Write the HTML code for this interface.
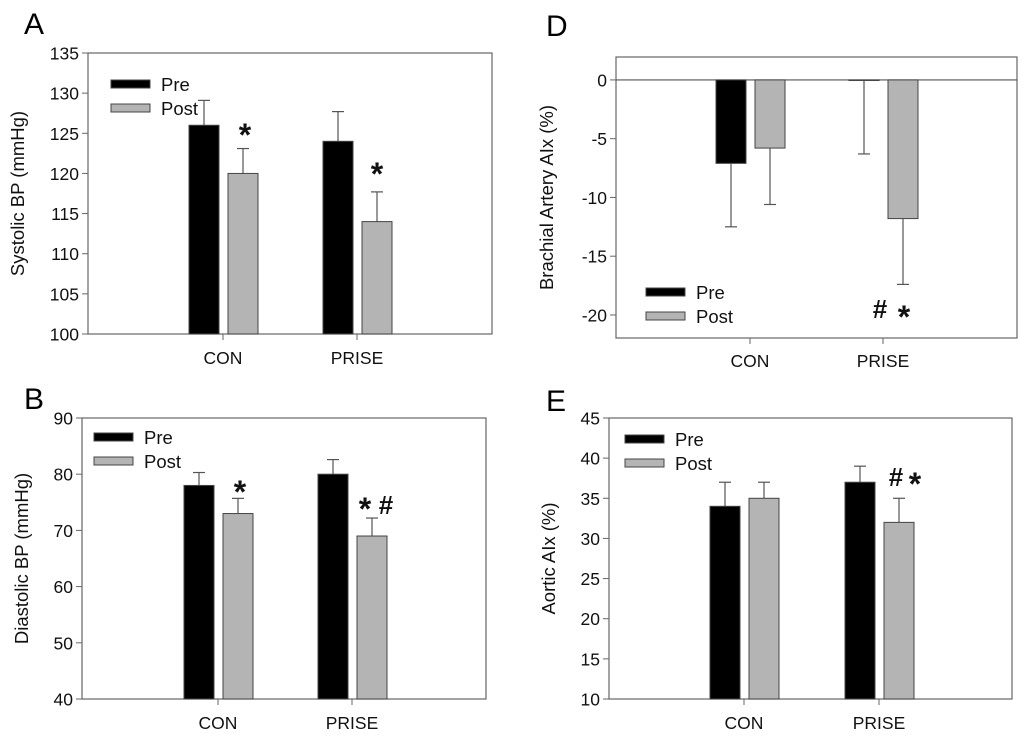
<!DOCTYPE html>
<html><head><meta charset="utf-8"><style>
html,body{margin:0;padding:0;background:#fff;}
svg{display:block;font-family:"Liberation Sans",Arial,sans-serif;}
</style></head><body>
<svg id="fig" width="1024" height="740" viewBox="0 0 1024 740" xmlns="http://www.w3.org/2000/svg"></svg>
<script>
const categories = ["CON", "PRISE"];
// Panel A: Systolic BP
const aPre = [126, 124];
const aPreErr = [3.1, 3.7];
const aPost = [120, 114];
const aPostErr = [3.1, 3.7];
const aTicks = [100, 105, 110, 115, 120, 125, 130, 135];
// Panel B: Diastolic BP
const bPre = [78, 80];
const bPreErr = [2.3, 2.6];
const bPost = [73, 69];
const bPostErr = [2.7, 3.2];
const bTicks = [40, 50, 60, 70, 80, 90];
// Panel D: Brachial Artery AIx
const dPre = [-7.1, -0.05];
const dPreErr = [5.4, 6.25];
const dPost = [-5.8, -11.8];
const dPostErr = [4.8, 5.6];
const dTicks = [-20, -15, -10, -5, 0];
// Panel E: Aortic AIx
const ePre = [34, 37];
const ePreErr = [3, 2];
const ePost = [35, 32];
const ePostErr = [2, 3];
const eTicks = [10, 15, 20, 25, 30, 35, 40, 45];

const NS = "http://www.w3.org/2000/svg";
const svg = document.getElementById("fig");
function mk(tag, attrs, parent, text) {
  const e = document.createElementNS(NS, tag);
  for (const k in attrs) e.setAttribute(k, attrs[k]);
  if (text !== undefined) e.textContent = text;
  (parent || svg).appendChild(e);
  return e;
}

function panel(cfg) {
  const g = mk("g", {});
  
  
  const y = v => cfg.bottom - (v - cfg.ymin) / (cfg.ymax - cfg.ymin) * (cfg.bottom - cfg.top);
  const L = mk("text", {x: cfg.letterX, y: cfg.letterY, "font-size": 30}, g, cfg.letter);
  
  
  const frame = mk("rect", {x: cfg.left, y: cfg.top, width: cfg.right - cfg.left, height: cfg.bottom - cfg.top, fill: "none", stroke: "#666", "stroke-width": 1.2}, g);
  
  
  cfg.ticks.forEach(t => {
    const yy = y(t);
    const tl = mk("line", {x1: cfg.left - 6, x2: cfg.left, y1: yy, y2: yy, stroke: "#666", "stroke-width": 1}, g);
    
    
    const tx = mk("text", {x: cfg.left - 9, y: yy + 6.5, "font-size": 17.5, "text-anchor": "end", fill: "#111"}, g, String(t));
    
    
  });
  if (cfg.zeroLine) {
    const z = mk("line", {x1: cfg.left, x2: cfg.right, y1: y(0), y2: y(0), stroke: "#555", "stroke-width": 1.2}, g);
    
    
  }
  const yl = mk("text", {x: 0, y: 0, "font-size": 18.5, "text-anchor": "middle", fill: "#111", transform: `translate(${cfg.ylabX},${(cfg.top + cfg.bottom) / 2}) rotate(-90)`}, g, cfg.ylabel);
  
  
  categories.forEach((c, i) => {
    const tx = cfg.catX[i];
    const tk = mk("line", {x1: tx, x2: tx, y1: cfg.bottom, y2: cfg.bottom + 6, stroke: "#666", "stroke-width": 1}, g);
    
    
    const cl = mk("text", {x: tx, y: cfg.catY, "font-size": 17.5, "text-anchor": "middle", fill: "#111"}, g, c);
    
    
    [[cfg.pre, cfg.preErr, tx - 34, "#000", "pre"], [cfg.post, cfg.postErr, tx + 5, "#b4b4b4", "post"]].forEach(([vals, errs, bx, fill, nm]) => {
      const v = vals[i], e = errs[i];
      const base = cfg.zeroLine ? 0 : cfg.ymin;
      const y1 = Math.min(y(v), y(base)), y2 = Math.max(y(v), y(base));
      const cx = bx + 15;
      const end = v >= base ? v + e : v - e;
      const el = mk("line", {x1: cx, x2: cx, y1: y(v), y2: y(end), stroke: "#555", "stroke-width": 1.2}, g);
      
      
      const cap = mk("line", {x1: cx - 6, x2: cx + 6, y1: y(end), y2: y(end), stroke: "#555", "stroke-width": 1.2}, g);
      
      
      const r = mk("rect", {x: bx, y: y1, width: 30, height: Math.max(y2 - y1, 0.5), fill: fill, stroke: "#444", "stroke-width": 1}, g);
      
      
    });
  });
  const lg = mk("g", {}, g);
  
  
  [["Pre", "#000", 0], ["Post", "#b4b4b4", 1]].forEach(([t, f, k]) => {
    const ry = cfg.legY + k * 24;
    const r = mk("rect", {x: cfg.legX, y: ry, width: 39, height: 8, fill: f, stroke: "#444", "stroke-width": 1}, lg);
    
    
    const tt = mk("text", {x: cfg.legX + 50, y: ry + 11, "font-size": 18.5, fill: "#111"}, lg, t);
    
    
  });
  cfg.marks.forEach(m => {
    const s = mk("text", {x: m[0], y: m[1], "font-size": m[3] || 32, "font-weight": "bold", "text-anchor": "middle", fill: "#111"}, g, m[2]);
    
    
  });
}

panel({id: "panel-a-systolic", letter: "A", letterX: 24, letterY: 34, left: 88, right: 492, top: 53, bottom: 334, ymin: 100, ymax: 135,
  ticks: aTicks, ylabel: "Systolic BP (mmHg)", ylabX: 24, catX: [223, 357], catY: 364,
  pre: aPre, preErr: aPreErr, post: aPost, postErr: aPostErr, legX: 111, legY: 80,
  marks: [[245, 146, "*"], [377, 185, "*"]]});
panel({id: "panel-b-diastolic", letter: "B", letterX: 24, letterY: 409, left: 82, right: 486, top: 418, bottom: 699, ymin: 40, ymax: 90,
  ticks: bTicks, ylabel: "Diastolic BP (mmHg)", ylabX: 28, catX: [218, 352], catY: 729,
  pre: bPre, preErr: bPreErr, post: bPost, postErr: bPostErr, legX: 94, legY: 433,
  marks: [[240, 503, "*"], [365, 520, "*"], [386, 514, "#", 26]]});
panel({id: "panel-d-brachial-aix", letter: "D", letterX: 546, letterY: 36, left: 616, right: 1017, top: 57, bottom: 338, ymin: -21.96, ymax: 1.95, zeroLine: true,
  ticks: dTicks, ylabel: "Brachial Artery AIx (%)", ylabX: 553, catX: [750, 883], catY: 367,
  pre: dPre, preErr: dPreErr, post: dPost, postErr: dPostErr, legX: 646, legY: 288,
  marks: [[880, 318, "#", 26], [904, 328, "*"]]});
panel({id: "panel-e-aortic-aix", letter: "E", letterX: 546, letterY: 411, left: 609, right: 1012, top: 418, bottom: 699, ymin: 10, ymax: 45,
  ticks: eTicks, ylabel: "Aortic AIx (%)", ylabX: 555, catX: [744, 879], catY: 729,
  pre: ePre, preErr: ePreErr, post: ePost, postErr: ePostErr, legX: 625, legY: 435,
  marks: [[896, 486, "#", 26], [915, 495, "*"]]});
</script>
</body></html>
